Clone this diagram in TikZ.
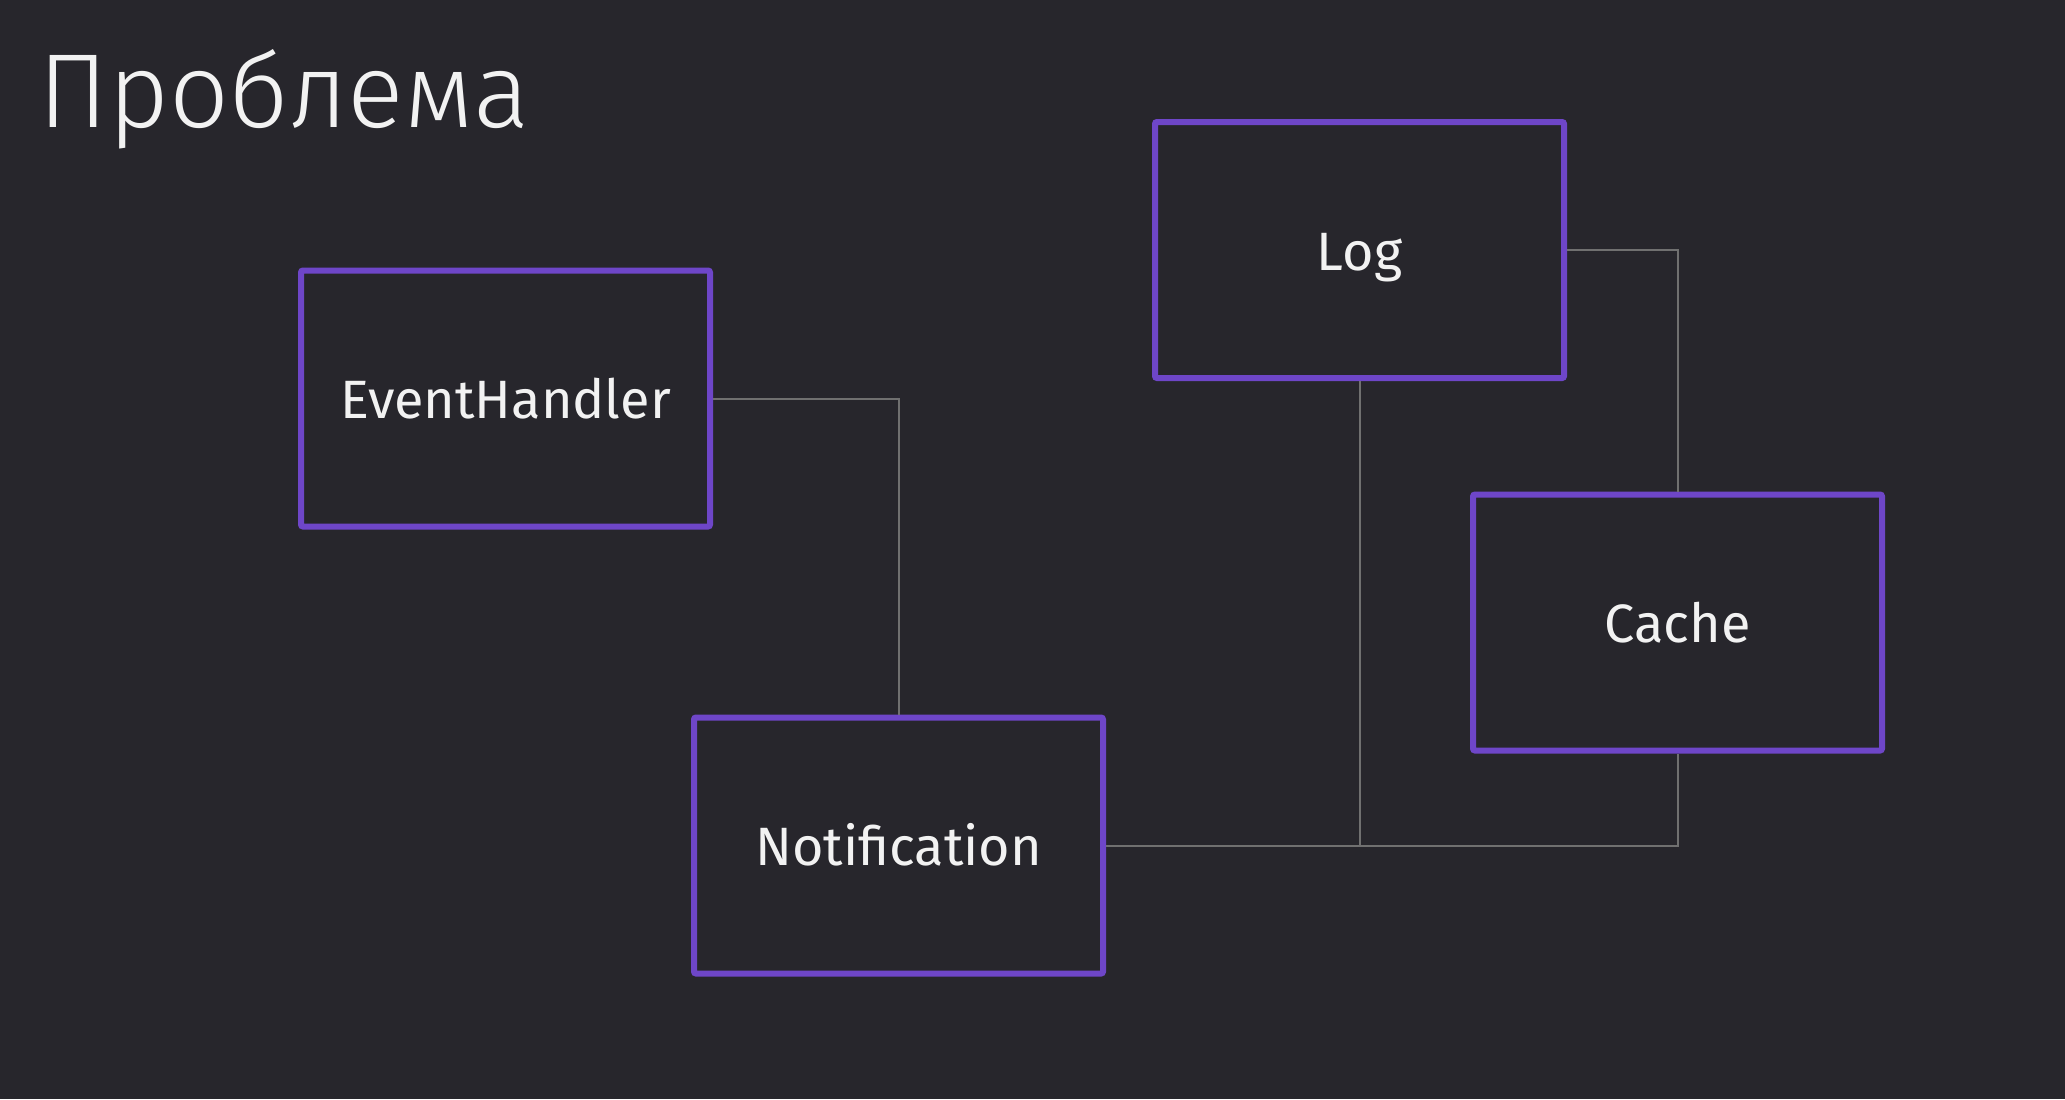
\documentclass[tikz,border=0pt]{standalone}
\usepackage{fontspec}
\setmainfont{Fira Sans}
\newfontfamily\titlefont{Fira Sans Light}
\definecolor{bg}{HTML}{27262C}
\definecolor{boxline}{HTML}{6E46C8}
\definecolor{wire}{HTML}{707070}
\definecolor{txt}{HTML}{F2F2F2}
\begin{document}
\begin{tikzpicture}[x=0.5pt,y=-0.5pt,
  cls/.style={draw=boxline, line width=3pt, rounded corners=1pt, minimum width=204.5pt, minimum height=128pt, inner sep=0pt, text height=20pt, text depth=0pt, text=txt, font=\fontsize{27pt}{32pt}\selectfont},
  wireline/.style={draw=wire, line width=1pt}]
\fill[bg] (0,0) rectangle (2065,1099);
\useasboundingbox (0,0) rectangle (2065,1099);
\node[anchor=base west, inner sep=0pt, text=txt, font=\titlefont\fontsize{52.6pt}{58pt}\selectfont] (title) at (38,127) {Проблема};
\node[cls] (eh) at (505.5,398.5) {EventHandler};
\node[cls] (log) at (1359.5,250) {Log};
\node[cls] (cache) at (1677.5,622.5) {Cache};
\node[cls] (notif) at (898.5,845.5) {Notification};
\coordinate (junc) at (log.south |- notif.east);
\draw[wireline] (eh.east) -| (notif.north);
\draw[wireline] (log.east) -| (cache.north);
\draw[wireline] (log.south) -- (junc);
\draw[wireline] (notif.east) -| (cache.south);
\end{tikzpicture}
\end{document}
